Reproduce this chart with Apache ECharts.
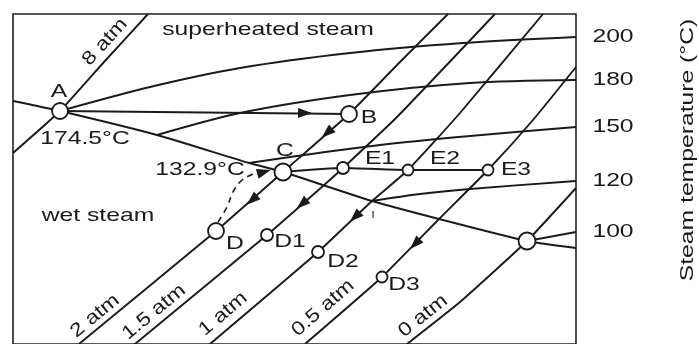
<!DOCTYPE html>
<html>
<head>
<meta charset="utf-8">
<script src="https://cdn.jsdelivr.net/npm/echarts@6/dist/echarts.min.js"></script>
<style>
  html, body { margin: 0; padding: 0; background: #fff; }
  #chart { width: 699px; height: 344px; }
</style>
</head>
<body>
<div id="chart"></div>
<script>
// Schematic steam diagram. Horizontal axis ~ entropy, vertical ~ enthalpy (arbitrary units).

// Isobars (lines of constant pressure)
const isobar8  = [[0,191],[47,233],[91,282],[135,330]];
const isobar2  = [[66,0],[203,113],[270,172],[336,230],[387,282],[435,330]];
const isobar15 = [[122,0],[254,109],[310,158],[330,176],[384,227],[482,330]];
const isobar1  = [[197,0],[305,92],[359,143],[395,174],[447,231],[530,330]];
const isobar05 = [[292,0],[369,67],[426,125],[475,174],[520,224],[563,277]];
const isobar0  = [[394,0],[447,42],[514,103],[563,156]];
const isobarNames = ['8 atm', '2 atm', '1.5 atm', '1 atm', '0.5 atm', '0 atm'];
const isobarLabelAt = [[92,302],[82,28],[141,32],[210,30],[310,36],[410,28]];

// Saturation line between wet and superheated steam
const saturation = [[0,243],[47,233],[144,209],[236,181],[270,172],[359,143],[426,125],[514,103],[563,96]];

// Isotherms in the superheated region
const isotherm200 = [[47,233],[137,257],[227,276],[337,291],[450,301],[563,307]];
const isotherm180 = [[144,209],[227,231],[337,249],[457,261],[563,264]];
const isotherm150 = [[236,181],[284,188],[367,199],[457,208],[563,217]];
const isotherm120 = [[359,143],[407,150],[457,155],[563,163]];
const isotherm100 = [[514,103],[563,112]];
const tempTicks = ['200', '180', '150', '120', '100'];

// Process paths
const pathAB = [[47,233],[336,230]];
const pathCE = [[270,172],[330,176],[395,174],[475,174]];
const pathDC = [[205,122],[214,137],[220,152],[228,163],[238,169],[245,171]];

// State points
const stateNames  = ['A', 'B', 'C', 'D', 'D1', 'D2', 'D3', 'E1', 'E2', 'E3', 'F'];
const statePoints = [[47,233],[336,230],[270,172],[203,113],[254,109],[305,92],[369,67],[330,176],[395,174],[475,174],[514,103]];

// Flow arrows: position, the line they sit on, and sense along that line
const arrowAt    = [[292,231],[314,211],[239,144],[289,140],[342,127],[402,100],[251,172]];
const arrowAlong = [pathAB, isobar2, isobar2, isobar15, isobar1, isobar05, pathDC];
const arrowSense = [1, -1, -1, -1, -1, -1, 1];

// Text annotations
const textLabels = [
  ['superheated steam', 255, 314],
  ['wet steam', 85, 128],
  ['A', 46, 252], ['174.5°C', 72, 205],
  ['B', 356, 226],
  ['C', 272, 193], ['132.9°C', 187, 174],
  ['E1', 367, 185], ['E2', 432, 185], ['E3', 503, 174],
  ['D', 222, 100], ['D1', 277, 102], ['D2', 330, 82], ['D3', 391, 59]
];
const axisTitle = 'Steam temperature (°C)';
const axisTitleAt = [675, 194];
const tickLabelX = 600;

// ---- styling ----
const INK = '#1a1a1a';
const FONT = '"Liberation Sans", Arial, Helvetica, sans-serif';
const FONT_SIZE = 19;
const WIDEN = 1.3;
const stateSize = { A: 16, B: 16, C: 17, D: 16, D1: 12, D2: 12, D3: 11, E1: 12, E2: 11, E3: 11, F: 17 };

const chart = echarts.init(document.getElementById('chart'), null, { renderer: 'canvas' });

function curve(data, extra) {
  return Object.assign({
    type: 'line',
    data: data,
    showSymbol: false,
    symbol: 'none',
    smooth: false,
    silent: true,
    lineStyle: { color: INK, width: 1.9, opacity: 1 },
    z: 2
  }, extra || {});
}

// direction of the polyline segment that carries a given point
function headingOn(line, pt, sense) {
  let best = 0, bestD = Infinity;
  for (let i = 0; i < line.length - 1; i++) {
    const mx = (line[i][0] + line[i + 1][0]) / 2, my = (line[i][1] + line[i + 1][1]) / 2;
    const d = (mx - pt[0]) ** 2 + (my - pt[1]) ** 2;
    const inside = pt[0] >= Math.min(line[i][0], line[i + 1][0]) && pt[0] <= Math.max(line[i][0], line[i + 1][0]);
    const score = inside ? d - 1e6 : d;
    if (score < bestD) { bestD = score; best = i; }
  }
  const dx = line[best + 1][0] - line[best][0];
  const dy = line[best + 1][1] - line[best][1];
  let ang = Math.atan2(dy, dx) * 180 / Math.PI;
  if (sense < 0) ang += 180;
  return ang;
}

const isobars = [isobar8, isobar2, isobar15, isobar1, isobar05, isobar0];
const isotherms = [isotherm200, isotherm180, isotherm150, isotherm120, isotherm100];

const series = [];
isobars.forEach(l => series.push(curve(l, { smooth: 0.15 })));
series.push(curve(saturation, { smooth: 0.2 }));
isotherms.forEach(l => series.push(curve(l, { smooth: 0.3 })));
series.push(curve(pathAB));
series.push(curve(pathCE, { smooth: 0.2 }));
series.push(curve(pathDC, { smooth: 0.4, lineStyle: { color: INK, width: 1.6, type: [6, 5] } }));

series.push({
  type: 'scatter',
  silent: true,
  z: 5,
  data: arrowAt.map((p, i) => ({
    value: p,
    symbolRotate: headingOn(arrowAlong[i], p, arrowSense[i]) - 90
  })),
  symbol: 'triangle',
  symbolSize: [10, 14],
  itemStyle: { color: INK, opacity: 1 }
});

series.push({
  type: 'scatter',
  silent: true,
  z: 6,
  data: statePoints.map((p, i) => ({ value: p, name: stateNames[i], symbolSize: stateSize[stateNames[i]] })),
  symbol: 'circle',
  itemStyle: { color: '#fff', borderColor: INK, borderWidth: 1.8, opacity: 1 }
});

chart.setOption({
  animation: false,
  backgroundColor: '#fff',
  grid: {
    left: 13, right: 123, top: 14, bottom: 0,
    show: true, borderColor: '#222', borderWidth: 1.6, backgroundColor: 'transparent'
  },
  xAxis: {
    type: 'value', min: 0, max: 563,
    axisLine: { show: false }, axisTick: { show: false },
    axisLabel: { show: false }, splitLine: { show: false }
  },
  yAxis: {
    type: 'value', min: 0, max: 330,
    axisLine: { show: false }, axisTick: { show: false },
    axisLabel: { show: false }, splitLine: { show: false }
  },
  series: series
});

function toPx(p) { return chart.convertToPixel({ gridIndex: 0 }, p); }

function textEl(str, p, opts, size) {
  const px = toPx(p);
  const fs = size || FONT_SIZE;
  return Object.assign({
    type: 'text',
    x: px[0], y: px[1],
    scaleX: WIDEN,
    z: 100,
    silent: true,
    style: {
      text: str, fill: INK, font: fs + 'px ' + FONT,
      fontSize: fs, fontFamily: FONT,
      align: 'center', verticalAlign: 'middle'
    }
  }, opts || {});
}

const graphics = [];
textLabels.forEach(t => graphics.push(textEl(t[0], [t[1], t[2]])));

// pressure labels laid along their isobars
isobarNames.forEach((name, i) => {
  const at = isobarLabelAt[i];
  const ang = headingOn(isobars[i], at, 1);
  graphics.push(textEl(name, at, { rotation: ang * Math.PI / 180, scaleX: 1.2 }));
});

// temperature ticks at the ends of the isotherms
tempTicks.forEach((t, i) => {
  const line = isotherms[i];
  graphics.push(textEl(t, [tickLabelX, line[line.length - 1][1]]));
});

// small mark below point I on the saturation line
graphics.push(textEl('ı', [360, 130], { scaleX: 1 }, 13));

graphics.push(textEl(axisTitle, axisTitleAt, { rotation: Math.PI / 2, scaleX: 1.3 }));

chart.setOption({ graphic: graphics });
</script>
</body>
</html>
